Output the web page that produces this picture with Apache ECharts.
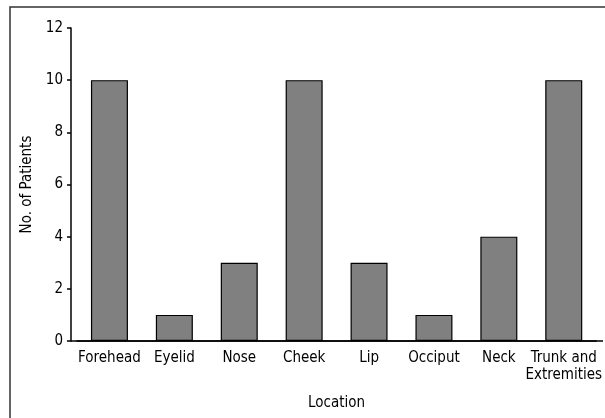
<!DOCTYPE html>
<html>
<head>
<meta charset="utf-8">
<script src="https://cdn.jsdelivr.net/npm/echarts@6/dist/echarts.min.js"></script>
<style>
  html, body { margin: 0; padding: 0; background: #fff; }
  #main { width: 605px; height: 418px; }
</style>
</head>
<body>
<div id="main"></div>
<script>
var categories = ['Forehead', 'Eyelid', 'Nose', 'Cheek', 'Lip', 'Occiput', 'Neck', 'Trunk and\nExtremities'];
var patients = [10, 1, 3, 10, 3, 1, 4, 10];
var yTicks = [0, 2, 4, 6, 8, 10, 12];

var fontName = "'Liberation Sans Narrow', 'DejaVu Sans Condensed', sans-serif";
var myChart = echarts.init(document.getElementById('main'));

var option = {
    animation: false,
    backgroundColor: '#fff',
    grid: { left: 77, right: 8, top: 28, bottom: 77 },
    // 外框 + 延长的x轴线
    graphic: [
        { type: 'rect', shape: { x: 10, y: 7, width: 700, height: 500 },
          style: { fill: 'none', stroke: '#333', lineWidth: 1.5 } },
        { type: 'line', shape: { x1: 71, y1: 341, x2: 603, y2: 341 },
          style: { stroke: '#000', lineWidth: 1.5 } }
    ],
    xAxis: {
        type: 'category',
        data: categories,
        name: 'Location',
        nameLocation: 'middle',
        nameGap: 55,
        nameTextStyle: { fontFamily: fontName, fontSize: 15, color: '#000' },
        axisLine: { lineStyle: { color: '#000', width: 1.5 } },
        axisTick: { show: false },
        axisLabel: { fontFamily: fontName, fontSize: 15, color: '#000', margin: 9, interval: 0, lineHeight: 17 }
    },
    yAxis: {
        type: 'value',
        min: yTicks[0],
        max: yTicks[yTicks.length - 1],
        interval: 2,
        offset: 6,
        name: 'No. of Patients',
        nameLocation: 'middle',
        nameGap: 34,
        nameTextStyle: { fontFamily: fontName, fontSize: 15, color: '#000' },
        splitLine: { show: false },
        axisLine: { show: true, lineStyle: { color: '#000', width: 1.5 } },
        axisTick: { show: true, length: 4, lineStyle: { color: '#000', width: 1.5 } },
        axisLabel: { fontFamily: fontName, fontSize: 15, color: '#000', margin: 8 }
    },
    series: [{
        type: 'bar',
        data: patients,
        barWidth: 37,
        itemStyle: { color: '#808080', borderColor: '#000', borderWidth: 1.2 }
    }]
};

myChart.setOption(option);
</script>
</body>
</html>
